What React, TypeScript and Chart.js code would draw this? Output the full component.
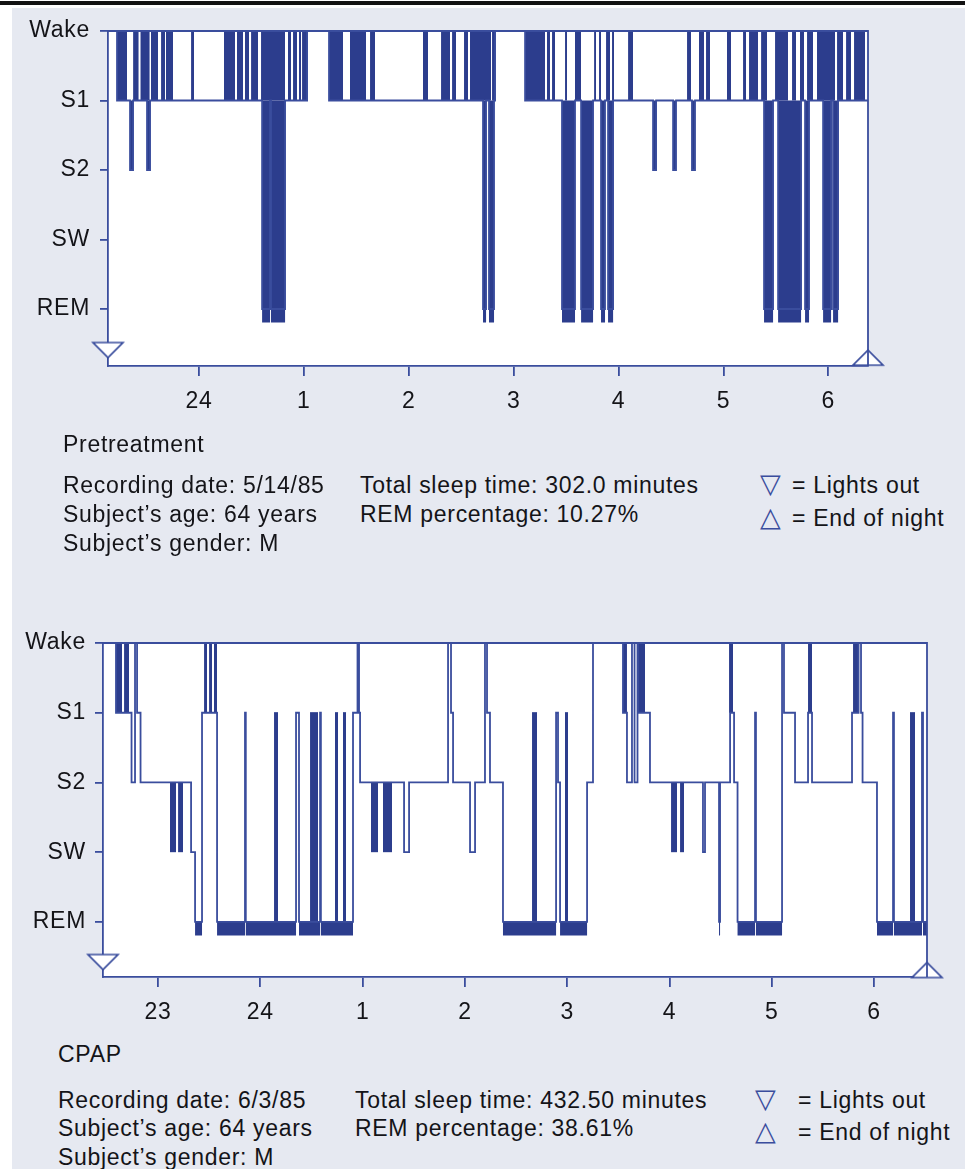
import React, { useEffect, useRef } from 'react';
import { Chart, registerables } from 'chart.js';

Chart.register(...registerables);

const LINE_BLUE = '#3a4d9d';
const FILL_BLUE = '#2c3d8d';
const PAGE_BG = '#e6e9f1';
const TEXT = '#141418';
const FONT_FAMILY = "'Liberation Sans', Arial, Helvetica, sans-serif";
const FONT_SIZE = 23;
const LETTER_SPACING = '0.7px';
const REM_BAR_Y = -0.094;

// Sleep-stage axis (value -> label)
const stageValues = [4, 3, 2, 1, 0];
const stageNames = ['Wake', 'S1', 'S2', 'SW', 'REM'];

// ---------- Pretreatment night (clock hours, 25 = 1 a.m.) ----------
const preTimes = [
  23.133, 23.219, 23.343, 23.372, 23.505, 23.534, 24.602, 24.678, 24.687, 24.821,
  25.031, 25.240, 26.708, 26.737, 26.765, 26.813, 26.823, 27.109, 27.461, 27.585,
  27.643, 27.757, 27.833, 27.871, 27.900, 27.948, 28.329, 28.358, 28.520, 28.548,
  28.700, 28.729, 29.387, 29.473, 29.521, 29.740, 29.778, 29.816, 29.950, 30.026,
  30.045, 30.093, 30.378,
];
const preStages = [
  4, 3, 2, 3, 2, 3, 0, 3, 0, 3,
  4, 3, 0, 3, 0, 3, 4, 3, 0, 3,
  0, 3, 0, 3, 0, 3, 2, 3, 2, 3,
  2, 3, 0, 3, 0, 3, 0, 3, 0, 3,
  0, 3, 3,
];
// rapid Wake/S1 alternation (drawn as solid blocks)
const preDenseStart = [
  23.219, 23.372, 23.441, 23.543, 23.639, 23.686, 23.925, 24.239, 24.363, 24.439,
  24.497, 24.592, 24.849, 24.897, 24.954, 24.983, 25.240, 25.440, 25.631, 26.136,
  26.308, 26.413, 26.527, 26.584, 26.794, 27.109, 27.318, 27.366, 27.490, 27.585,
  27.767, 27.814, 27.881, 27.938, 28.091, 28.653, 28.767, 28.834, 29.034, 29.187,
  29.244, 29.359, 29.492, 29.654, 29.730, 29.797, 29.892, 30.083, 30.169, 30.245,
];
const preDenseEnd = [
  23.315, 23.426, 23.531, 23.610, 23.677, 23.753, 23.953, 24.344, 24.420, 24.478,
  24.563, 24.821, 24.878, 24.935, 24.973, 25.031, 25.374, 25.593, 25.679, 26.184,
  26.394, 26.451, 26.565, 26.785, 26.823, 27.299, 27.347, 27.395, 27.509, 27.643,
  27.786, 27.833, 27.919, 27.957, 28.138, 28.691, 28.815, 28.872, 29.072, 29.216,
  29.330, 29.416, 29.616, 29.692, 29.768, 29.854, 30.064, 30.140, 30.216, 30.350,
];
const preDenseHigh = [
  4, 4, 4, 4, 4, 4, 4, 4, 4, 4,
  4, 4, 4, 4, 4, 4, 4, 4, 4, 4,
  4, 4, 4, 4, 4, 4, 4, 4, 4, 4,
  4, 4, 4, 4, 4, 4, 4, 4, 4, 4,
  4, 4, 4, 4, 4, 4, 4, 4, 4, 4,
];
const preDenseLow = [
  3, 3, 3, 3, 3, 3, 3, 3, 3, 3,
  3, 3, 3, 3, 3, 3, 3, 3, 3, 3,
  3, 3, 3, 3, 3, 3, 3, 3, 3, 3,
  3, 3, 3, 3, 3, 3, 3, 3, 3, 3,
  3, 3, 3, 3, 3, 3, 3, 3, 3, 3,
];
const preHourTicks = [24, 25, 26, 27, 28, 29, 30];
const preHourLabels = ['24', '1', '2', '3', '4', '5', '6'];
const preLightsOut = [23.133];
const preEndOfNight = [30.378];

// ---------- CPAP night ----------
const cpapTimes = [
  22.462, 22.589, 22.741, 22.775, 22.795, 22.829, 23.323, 23.362, 23.430, 23.577,
  23.850, 23.858, 24.349, 24.378, 24.584, 24.592, 24.906, 24.950, 24.965, 24.975,
  25.405, 25.454, 25.835, 25.864, 25.884, 26.050, 26.099, 26.196, 26.216, 26.245,
  26.372, 26.891, 26.910, 26.930, 27.194, 27.252, 27.545, 27.584, 27.633, 27.658,
  27.687, 27.692, 27.809, 28.327, 28.347, 28.484, 28.494, 28.592, 28.631, 28.665,
  28.836, 28.845, 29.100, 29.119, 29.227, 29.354, 29.393, 29.784, 29.848, 29.872,
  29.887, 30.028, 30.185, 30.194, 30.468, 30.478, 30.517,
];
const cpapStages = [
  4, 3, 2, 4, 3, 2, 1, 0, 3, 0,
  3, 0, 3, 0, 3, 0, 3, 4, 3, 2,
  1, 2, 4, 3, 2, 1, 2, 4, 3, 2,
  0, 3, 2, 0, 2, 4, 3, 2, 4, 2,
  4, 3, 2, 1, 2, 0, 2, 3, 2, 0,
  3, 0, 4, 3, 2, 3, 2, 3, 4, 3,
  2, 0, 3, 0, 3, 0, 0,
];
const cpapDenseStart = [
  22.589, 22.668, 23.117, 23.196, 23.450, 23.499, 23.547, 24.134, 24.486, 24.730,
  24.808, 25.082, 25.199, 26.656, 26.978, 27.545, 27.692, 28.015, 28.103, 28.582,
  29.354, 29.794, 30.351,
];
const cpapDenseEnd = [
  22.648, 22.717, 23.176, 23.244, 23.479, 23.528, 23.577, 24.173, 24.564, 24.760,
  24.838, 25.151, 25.287, 26.705, 27.008, 27.584, 27.761, 28.073, 28.142, 28.621,
  29.393, 29.843, 30.400,
];
const cpapDenseHigh = [4, 4, 2, 2, 4, 4, 4, 3, 3, 3, 3, 2, 2, 3, 3, 4, 4, 2, 2, 4, 4, 4, 3];
const cpapDenseLow = [3, 3, 1, 1, 3, 3, 3, 0, 0, 0, 0, 1, 1, 0, 0, 3, 3, 1, 1, 3, 3, 3, 0];
const cpapHourTicks = [23, 24, 25, 26, 27, 28, 29, 30];
const cpapHourLabels = ['23', '24', '1', '2', '3', '4', '5', '6'];
const cpapLightsOut = [22.462];
const cpapEndOfNight = [30.517];

// ---------- text ----------
const preTitle = 'Pretreatment';
const preInfo = ['Recording date: 5/14/85', 'Subject\u2019s age: 64 years', 'Subject\u2019s gender: M'];
const preStats = ['Total sleep time: 302.0 minutes', 'REM percentage: 10.27%'];
const cpapTitle = 'CPAP';
const cpapInfo = ['Recording date: 6/3/85', 'Subject\u2019s age: 64 years', 'Subject\u2019s gender: M'];
const cpapStats = ['Total sleep time: 432.50 minutes', 'REM percentage: 38.61%'];
const legendItems = ['= Lights out', '= End of night'];

const prePanel = {
  times: preTimes, stages: preStages,
  denseStart: preDenseStart, denseEnd: preDenseEnd, denseHigh: preDenseHigh, denseLow: preDenseLow,
  hourTicks: preHourTicks, hourLabels: preHourLabels,
  lightsOut: preLightsOut, endOfNight: preEndOfNight,
  layout: {
    canvasTop: 0, canvasHeight: 440, left: 108, top: 31, right: 868, bottom: 366,
    xMin: 23.133, xMax: 30.378, yMin: -0.82, labelPad: 12, yLabelPad: 10,
    downY: -0.59, upY: -0.70, fillDips: true,
  },
};

const cpapPanel = {
  times: cpapTimes, stages: cpapStages,
  denseStart: cpapDenseStart, denseEnd: cpapDenseEnd, denseHigh: cpapDenseHigh, denseLow: cpapDenseLow,
  hourTicks: cpapHourTicks, hourLabels: cpapHourLabels,
  lightsOut: cpapLightsOut, endOfNight: cpapEndOfNight,
  layout: {
    canvasTop: 600, canvasHeight: 440, left: 103, top: 643, right: 927, bottom: 977,
    xMin: 22.462, xMax: 30.517, yMin: -0.79, labelPad: 12, yLabelPad: 9,
    downY: -0.575, upY: -0.69, fillDips: false,
  },
};

function makeTriangle(down: boolean) {
  const c = document.createElement('canvas');
  c.width = 34;
  c.height = 19;
  const ctx = c.getContext('2d')!;
  ctx.beginPath();
  if (down) {
    ctx.moveTo(2, 2); ctx.lineTo(32, 2); ctx.lineTo(17, 17);
  } else {
    ctx.moveTo(2, 17); ctx.lineTo(32, 17); ctx.lineTo(17, 2);
  }
  ctx.closePath();
  ctx.fillStyle = '#ffffff';
  ctx.fill();
  ctx.strokeStyle = LINE_BLUE;
  ctx.lineWidth = 1.7;
  ctx.stroke();
  return c;
}

const framePlugin = {
  id: 'hypnoFrame',
  beforeDraw(chart: any) {
    const { ctx, chartArea: a } = chart;
    ctx.letterSpacing = LETTER_SPACING;
    ctx.save();
    ctx.fillStyle = '#ffffff';
    ctx.fillRect(a.left, a.top, a.right - a.left, a.bottom - a.top);
    ctx.restore();
  },
  afterDatasetsDraw(chart: any) {
    const { ctx, chartArea: a } = chart;
    ctx.save();
    ctx.strokeStyle = LINE_BLUE;
    ctx.lineWidth = 1.8;
    ctx.beginPath();
    ctx.moveTo(a.left, a.top);
    ctx.lineTo(a.right, a.top);
    ctx.lineTo(a.right, a.bottom);
    ctx.stroke();
    ctx.restore();
  },
};

function buildConfig(p: any, triDown: HTMLCanvasElement, triUp: HTMLCanvasElement) {
  const L = p.layout;
  const hyp = p.times.map((t: number, i: number) => ({ x: t, y: p.stages[i] }));
  const remBar: any[] = [];
  for (let i = 0; i < p.times.length - 1; i++) {
    if (p.stages[i] === 0) {
      remBar.push({ x: p.times[i], y: REM_BAR_Y }, { x: p.times[i + 1], y: REM_BAR_Y }, { x: p.times[i + 1], y: null });
    }
  }
  const datasets: any[] = [
    {
      label: 'Lights out', data: p.lightsOut.map((x: number) => ({ x, y: L.downY })),
      showLine: false, pointStyle: triDown, pointRadius: 16, clip: false,
    },
    {
      label: 'End of night', data: p.endOfNight.map((x: number) => ({ x, y: L.upY })),
      showLine: false, pointStyle: triUp, pointRadius: 16, clip: false,
    },
    {
      label: 'Sleep stage', data: hyp, stepped: true, borderColor: LINE_BLUE, borderWidth: 1.8,
      pointRadius: 0, fill: false,
    },
    {
      label: 'REM', data: remBar, borderColor: FILL_BLUE, borderWidth: 14, pointRadius: 0,
      fill: false, spanGaps: false, borderCapStyle: 'butt',
    },
  ];
  p.denseStart.forEach((s: number, i: number) => {
    datasets.push({
      label: 'dense', data: [{ x: s, y: p.denseHigh[i] }, { x: p.denseEnd[i], y: p.denseHigh[i] }],
      borderColor: FILL_BLUE, borderWidth: 1, backgroundColor: FILL_BLUE,
      fill: { value: p.denseLow[i] }, pointRadius: 0,
    });
  });
  if (L.fillDips) {
    datasets.push({
      label: 'dips', data: p.times.map((t: number, i: number) => ({ x: t, y: Math.min(p.stages[i], 3) })),
      stepped: true, borderWidth: 0, borderColor: 'rgba(0,0,0,0)', backgroundColor: FILL_BLUE,
      fill: { value: 3 }, pointRadius: 0,
    });
  }
  const font = { family: FONT_FAMILY, size: FONT_SIZE };
  return {
    type: 'line',
    data: { datasets },
    options: {
      animation: false,
      responsive: false,
      maintainAspectRatio: false,
      events: [],
      layout: { padding: { left: 0, top: L.top - L.canvasTop, right: 965 - L.right, bottom: 0 } },
      plugins: { legend: { display: false }, tooltip: { enabled: false } },
      scales: {
        x: {
          type: 'linear', min: L.xMin, max: L.xMax,
          afterBuildTicks: (s: any) => { s.ticks = p.hourTicks.map((v: number) => ({ value: v })); },
          afterFit: (s: any) => { s.height = L.canvasHeight - (L.bottom - L.canvasTop); },
          grid: { drawOnChartArea: false, drawTicks: true, tickLength: 10, color: LINE_BLUE, lineWidth: 1.8 },
          border: { display: true, color: LINE_BLUE, width: 1.8 },
          ticks: {
            autoSkip: false, maxRotation: 0, color: TEXT, font, padding: L.labelPad,
            callback: (v: number) => p.hourLabels[p.hourTicks.indexOf(v)],
          },
        },
        y: {
          type: 'linear', min: L.yMin, max: 4,
          afterBuildTicks: (s: any) => { s.ticks = stageValues.map((v) => ({ value: v })); },
          afterFit: (s: any) => { s.width = L.left; },
          grid: { drawOnChartArea: false, drawTicks: true, tickLength: 8, color: LINE_BLUE, lineWidth: 1.8 },
          border: { display: true, color: LINE_BLUE, width: 1.8 },
          ticks: {
            autoSkip: false, color: TEXT, font, padding: L.yLabelPad,
            callback: (v: number) => stageNames[stageValues.indexOf(v)],
          },
        },
      },
    },
    plugins: [framePlugin],
  };
}

function HypnogramChart({ panel }: { panel: any }) {
  const ref = useRef<HTMLCanvasElement>(null);
  useEffect(() => {
    const triDown = makeTriangle(true);
    const triUp = makeTriangle(false);
    const chart = new Chart(ref.current as HTMLCanvasElement, buildConfig(panel, triDown, triUp) as any);
    return () => chart.destroy();
  }, [panel]);
  const L = panel.layout;
  return (
    <canvas
      ref={ref}
      width={965}
      height={L.canvasHeight}
      style={{ position: 'absolute', left: 0, top: L.canvasTop, width: 965, height: L.canvasHeight }}
    />
  );
}

function Label({ text, left, top, color = TEXT }: any) {
  return (
    <div
      style={{
        position: 'absolute', left, top, fontSize: FONT_SIZE, lineHeight: '28px', letterSpacing: LETTER_SPACING,
        fontFamily: FONT_FAMILY, color, whiteSpace: 'nowrap',
      }}
    >
      {text}
    </div>
  );
}

function InfoBlock({ title, info, stats, titleTop, rowTops, leftCol, midCol, triCol, legCol }: any) {
  return (
    <>
      <Label text={title} left={leftCol} top={titleTop} />
      {info.map((t: string, i: number) => (
        <Label key={'i' + i} text={t} left={leftCol} top={rowTops[i]} />
      ))}
      {stats.map((t: string, i: number) => (
        <Label key={'s' + i} text={t} left={midCol} top={rowTops[i]} />
      ))}
      <div style={{ position: 'absolute', left: triCol, top: rowTops[0] - 1, fontSize: 27, lineHeight: '28px', color: LINE_BLUE, fontFamily: "'DejaVu Sans', sans-serif" }}>{'\u25BD'}</div>
      <div style={{ position: 'absolute', left: triCol, top: rowTops[1] + 3, fontSize: 27, lineHeight: '28px', color: LINE_BLUE, fontFamily: "'DejaVu Sans', sans-serif" }}>{'\u25B3'}</div>
      <Label text={legendItems[0]} left={legCol} top={rowTops[0]} />
      <Label text={legendItems[1]} left={legCol} top={rowTops[1] + 4} />
    </>
  );
}

export default function App() {
  return (
    <div style={{ position: 'absolute', left: 0, top: 0, width: 965, height: 1169, background: '#ffffff', overflow: 'hidden' }}>
      <div style={{ position: 'absolute', left: 12, top: 8, width: 953, height: 1161, background: PAGE_BG }} />
      <div style={{ position: 'absolute', left: 0, top: 1, width: 965, height: 4, background: '#121212' }} />
      <HypnogramChart panel={prePanel} />
      <HypnogramChart panel={cpapPanel} />
      <InfoBlock
        title={preTitle} info={preInfo} stats={preStats}
        titleTop={430} rowTops={[471, 500, 529]} leftCol={63} midCol={360} triCol={760} legCol={792}
      />
      <InfoBlock
        title={cpapTitle} info={cpapInfo} stats={cpapStats}
        titleTop={1040} rowTops={[1086, 1114, 1143]} leftCol={58} midCol={355} triCol={755} legCol={798}
      />
    </div>
  );
}
